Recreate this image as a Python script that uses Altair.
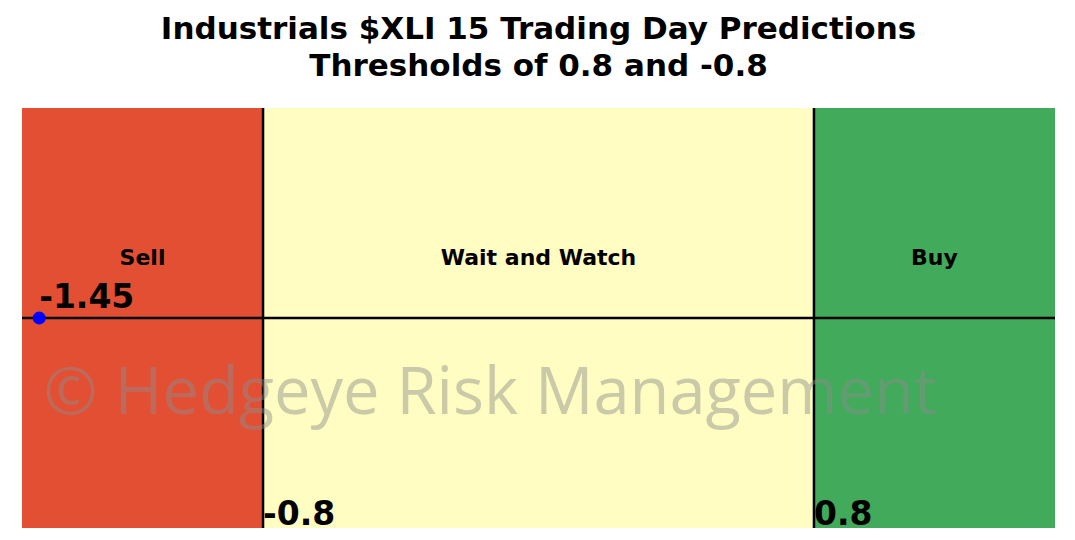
import altair as alt
import pandas as pd

# Zones
zone_names = ["Sell", "Wait and Watch", "Buy"]
zone_start = [-1.5, -0.8, 0.8]
zone_end = [-0.8, 0.8, 1.5]
zone_colors = ["#E34F33", "#FFFDC1", "#41AA5B"]

thresholds = [-0.8, 0.8]
threshold_labels = ["-0.8", "0.8"]

prediction = [-1.45]
prediction_labels = ["-1.45"]

zones = pd.DataFrame({"name": zone_names, "x": zone_start, "x2": zone_end,
                      "color": zone_colors,
                      "mid": [(a + b) / 2 for a, b in zip(zone_start, zone_end)]})
thr = pd.DataFrame({"x": thresholds, "label": threshold_labels})
pred = pd.DataFrame({"x": prediction, "label": prediction_labels})

xs = alt.Scale(domain=[-1.5, 1.5], nice=False, zero=False)
ys = alt.Scale(domain=[-1, 1], nice=False, zero=False)

rects = alt.Chart(zones).mark_rect().encode(
    x=alt.X("x:Q", scale=xs, axis=None),
    x2="x2:Q",
    y=alt.datum(-1, scale=ys, axis=None),
    y2=alt.datum(1),
    color=alt.Color("color:N", scale=None),
)

zone_text = alt.Chart(zones).mark_text(
    font="DejaVu Sans", fontWeight="bold", fontSize=22, baseline="middle", align="center"
).encode(
    x=alt.X("mid:Q", scale=xs, axis=None),
    y=alt.datum(0.285, scale=ys, axis=None),
    text="name:N",
)

vlines = alt.Chart(thr).mark_rule(color="black", strokeWidth=2.5).encode(
    x=alt.X("x:Q", scale=xs, axis=None),
    y=alt.datum(-1, scale=ys, axis=None),
    y2=alt.datum(1),
)

hline = alt.Chart(zones.head(1)).mark_rule(color="black", strokeWidth=2.5).encode(
    x=alt.datum(-1.5, scale=xs, axis=None),
    x2=alt.datum(1.5),
    y=alt.datum(0, scale=ys, axis=None),
)

thr_text = alt.Chart(thr).mark_text(
    font="DejaVu Sans", fontWeight="bold", fontSize=33, align="left", baseline="bottom", dy=4
).encode(
    x=alt.X("x:Q", scale=xs, axis=None),
    y=alt.datum(-1, scale=ys, axis=None),
    text="label:N",
)

watermark = alt.Chart(zones.head(1)).mark_text(
    font="Open Sans", fontSize=65, color="#8C8C8C", opacity=0.45,
    align="center", baseline="middle"
).encode(
    x=alt.datum(-0.14, scale=xs, axis=None),
    y=alt.datum(-0.36, scale=ys, axis=None),
    text=alt.value("© Hedgeye Risk Management"),
)

point = alt.Chart(pred).mark_circle(color="#0000FF", opacity=1, size=170).encode(
    x=alt.X("x:Q", scale=xs, axis=None),
    y=alt.datum(0, scale=ys, axis=None),
)

pred_text = alt.Chart(pred).mark_text(
    font="DejaVu Sans", fontWeight="bold", fontSize=33, align="left", baseline="bottom", dy=-3
).encode(
    x=alt.X("x:Q", scale=xs, axis=None),
    y=alt.datum(0, scale=ys, axis=None),
    text="label:N",
)

chart = alt.layer(rects, vlines, hline, watermark, zone_text, thr_text, point, pred_text).properties(
    width=1033, height=420,
    title=alt.TitleParams(
        text=["Industrials $XLI 15 Trading Day Predictions", "Thresholds of 0.8 and -0.8"],
        font="DejaVu Sans", fontWeight="bold", fontSize=31, lineHeight=37,
        anchor="middle", color="black", offset=24,
    ),
    autosize="none",
    padding={"left": 14, "top": 100, "right": 12, "bottom": 4},
).configure_view(stroke=None)

chart.save("out.html", embed_options={"renderer": "svg", "actions": False})
